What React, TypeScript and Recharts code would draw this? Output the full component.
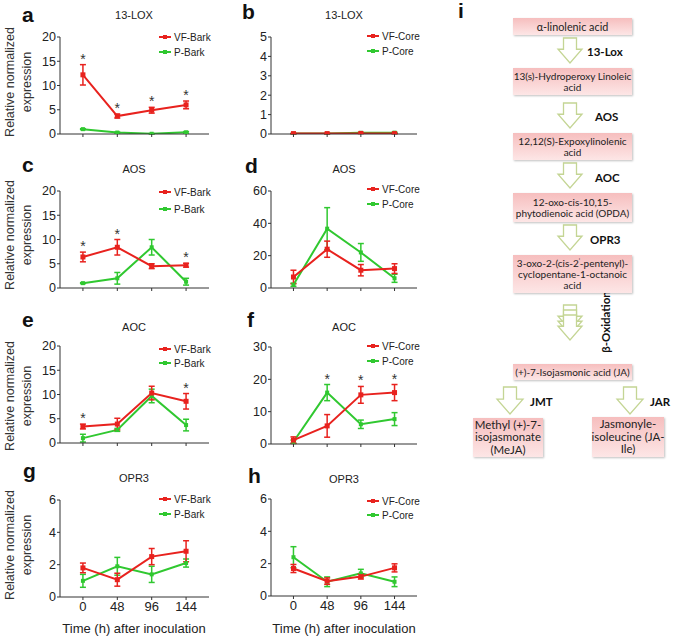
import React from "react";
import { LineChart, Line, XAxis, YAxis, ErrorBar, LabelList } from "recharts";

const times = [0, 48, 96, 144];

// a: 13-LOX bark
const loxVfBark = [12.2, 3.7, 4.9, 6.0];
const loxVfBarkErr = [2.1, 0.4, 0.6, 0.8];
const loxPBark = [1.0, 0.3, 0.05, 0.35];
const loxPBarkErr = [0.1, 0.1, 0.05, 0.15];
const loxBarkStars = [true, true, true, true];

// b: 13-LOX core
const loxVfCore = [0.02, 0.02, 0.03, 0.02];
const loxVfCoreErr = [0.01, 0.01, 0.01, 0.01];
const loxPCore = [0.02, 0.02, 0.06, 0.07];
const loxPCoreErr = [0.01, 0.01, 0.02, 0.02];
const loxCoreStars = [false, false, false, false];

// c: AOS bark
const aosVfBark = [6.4, 8.4, 4.5, 4.7];
const aosVfBarkErr = [1.0, 1.6, 0.5, 0.4];
const aosPBark = [1.0, 2.0, 8.4, 1.3];
const aosPBarkErr = [0.1, 1.2, 1.6, 0.7];
const aosBarkStars = [true, true, false, true];

// d: AOS core
const aosVfCore = [6.8, 24, 11, 12];
const aosVfCoreErr = [4.2, 5, 3.5, 3];
const aosPCore = [2, 36.7, 22, 6];
const aosPCoreErr = [1, 13, 5.5, 2.5];
const aosCoreStars = [false, false, false, false];

// e: AOC bark
const aocVfBark = [3.4, 3.9, 10.3, 8.6];
const aocVfBarkErr = [0.5, 1.2, 1.4, 1.6];
const aocPBark = [1.0, 2.7, 9.7, 3.7];
const aocPBarkErr = [0.8, 0.3, 1.4, 1.2];
const aocBarkStars = [true, false, false, true];

// f: AOC core
const aocVfCore = [1.2, 5.6, 15.2, 15.9];
const aocVfCoreErr = [1.0, 3.5, 2.6, 2.5];
const aocPCore = [0.7, 15.9, 6.1, 7.7];
const aocPCoreErr = [0.5, 2.5, 1.3, 2.0];
const aocCoreStars = [false, true, true, true];

// g: OPR3 bark
const oprVfBark = [1.8, 1.07, 2.5, 2.83];
const oprVfBarkErr = [0.3, 0.4, 0.5, 0.65];
const oprPBark = [1.0, 1.9, 1.4, 2.1];
const oprPBarkErr = [0.4, 0.55, 0.5, 0.25];
const oprBarkStars = [false, false, false, false];

// h: OPR3 core
const oprVfCore = [1.7, 0.92, 1.2, 1.74];
const oprVfCoreErr = [0.25, 0.2, 0.15, 0.25];
const oprPCore = [2.4, 0.88, 1.4, 0.88];
const oprPCoreErr = [0.65, 0.3, 0.25, 0.3];
const oprCoreStars = [false, false, false, false];

const RED = "#e8221e";
const GREEN = "#30c830";
const AXIS = "#333";
const FONT = "'Liberation Sans', Arial, sans-serif";

type PanelProps = {
  axisX: number;
  plotTop: number;
  plotW: number;
  yMax: number;
  yTicks: number[];
  vf: number[];
  vfErr: number[];
  p: number[];
  pErr: number[];
  stars: boolean[];
  names: [string, string];
  legendY: [number, number];
  bottom?: boolean;
};

const squareDot = (color: string, size: number) => (props: any) => (
  <rect
    key={props.index}
    x={props.cx - size / 2}
    y={props.cy - size / 2}
    width={size}
    height={size}
    fill={color}
  />
);

function Panel(props: PanelProps) {
  const { axisX, plotTop, plotW, yMax, yTicks, vf, vfErr, p, pErr, stars, names, legendY, bottom } = props;
  const data = times.map((t, i) => ({
    t,
    vf: vf[i],
    vfErr: vfErr[i],
    p: p[i],
    pErr: pErr[i],
    star: stars[i] ? Math.max(vf[i] + vfErr[i], p[i] + pErr[i]) : null,
  }));
  const top = 12;
  const legendX = axisX + plotW - 50;
  return (
    <>
      <div style={{ position: "absolute", left: axisX - 40, top: plotTop - top }}>
        <LineChart
          width={40 + plotW + 8}
          height={top + 97 + 30}
          data={data}
          margin={{ top, right: 8, bottom: 0, left: 0 }}
        >
          <XAxis
            dataKey="t"
            type="number"
            domain={[-32, 176]}
            ticks={times}
            interval={0}
            allowDataOverflow
            height={30}
            axisLine={{ stroke: AXIS }}
            tickLine={{ stroke: AXIS }}
            tickSize={3}
            tickMargin={2}
            tick={bottom ? { fontSize: 13, fill: "#222", fontFamily: FONT } : () => <g />}
          />
          <YAxis
            type="number"
            domain={[0, yMax]}
            ticks={yTicks}
            interval={0}
            allowDataOverflow
            width={40}
            axisLine={{ stroke: AXIS }}
            tickLine={{ stroke: AXIS }}
            tickSize={3}
            tickMargin={1}
            tick={{ fontSize: 12.5, fill: "#222", fontFamily: FONT }}
          />
          <Line
            dataKey="p"
            stroke={GREEN}
            strokeWidth={2}
            dot={squareDot(GREEN, 4)}
            isAnimationActive={false}
          >
            <ErrorBar dataKey="pErr" width={3} stroke={GREEN} strokeWidth={1.5} direction="y" />
          </Line>
          <Line
            dataKey="vf"
            stroke={RED}
            strokeWidth={2}
            dot={squareDot(RED, 5)}
            isAnimationActive={false}
          >
            <ErrorBar dataKey="vfErr" width={3} stroke={RED} strokeWidth={1.5} direction="y" />
          </Line>
          <Line dataKey="star" stroke="none" dot={false} isAnimationActive={false}>
            <LabelList
              dataKey="star"
              content={(lp: any) =>
                lp.value == null ? null : (
                  <text
                    x={lp.x}
                    y={lp.y - 1}
                    textAnchor="middle"
                    fontSize={14}
                    fill="#333"
                    fontFamily={FONT}
                  >
                    *
                  </text>
                )
              }
            />
          </Line>
        </LineChart>
      </div>
      {[0, 1].map((k) => (
        <div
          key={k}
          style={{
            position: "absolute",
            left: legendX,
            top: legendY[k] - 7,
            height: 14,
            display: "flex",
            alignItems: "center",
            fontFamily: FONT,
            fontSize: 10,
            color: "#222",
            whiteSpace: "nowrap",
          }}
        >
          <svg width={12} height={14} style={{ marginRight: 3 }}>
            <line x1={0} y1={7} x2={12} y2={7} stroke={k === 0 ? RED : GREEN} strokeWidth={2} />
            <rect x={4} y={5} width={4} height={4} fill={k === 0 ? RED : GREEN} />
          </svg>
          {names[k]}
        </div>
      ))}
    </>
  );
}

function DownArrow({ cx, top, w = 24, h = 25 }: { cx: number; top: number; w?: number; h?: number }) {
  const s = 6.5;
  const hy = top + h * 0.45;
  const pts = [
    [cx - s, top],
    [cx + s, top],
    [cx + s, hy],
    [cx + w / 2, hy],
    [cx, top + h],
    [cx - w / 2, hy],
    [cx - s, hy],
  ]
    .map((q) => q.join(","))
    .join(" ");
  return <polygon points={pts} fill="#fff" stroke="#c4d594" strokeWidth={1.3} />;
}

const boxStyle = (left: number, top: number, width: number, height: number, fs = 10): React.CSSProperties => ({
  position: "absolute",
  left,
  top,
  width,
  height,
  background: "linear-gradient(to bottom, #f6bebe, #fde6e6)",
  boxShadow: "1px 1px 2px rgba(0,0,0,0.25)",
  display: "flex",
  alignItems: "center",
  justifyContent: "center",
  textAlign: "center",
  fontFamily: "Lato, 'Open Sans', sans-serif",
  fontSize: fs,
  lineHeight: "11px",
  color: "#222",
  whiteSpace: "nowrap",
});

export default function App() {
  const ylabelRows = [82, 235, 396, 545];
  const panelLetters: [string, number, number][] = [
    ["a", 22, 22],
    ["b", 242, 19],
    ["c", 22, 172],
    ["d", 245, 173],
    ["e", 22, 327],
    ["f", 247, 327],
    ["g", 23, 478],
    ["h", 248, 483],
    ["i", 458, 18],
  ];
  const titles: [string, number, number][] = [
    ["13-LOX", 134, 19],
    ["13-LOX", 344, 19],
    ["AOS", 134, 173],
    ["AOS", 344, 173],
    ["AOC", 134, 331],
    ["AOC", 344, 331],
    ["OPR3", 134, 482],
    ["OPR3", 344, 483],
  ];
  return (
    <div style={{ position: "absolute", left: 0, top: 0, width: 675, height: 637, background: "#fff", overflow: "hidden" }}>
      <Panel axisX={60} plotTop={37} plotW={149} yMax={20} yTicks={[0, 5, 10, 15, 20]}
        vf={loxVfBark} vfErr={loxVfBarkErr} p={loxPBark} pErr={loxPBarkErr} stars={loxBarkStars}
        names={["VF-Bark", "P-Bark"]} legendY={[37, 52]} />
      <Panel axisX={271} plotTop={37} plotW={146} yMax={5} yTicks={[0, 1, 2, 3, 4, 5]}
        vf={loxVfCore} vfErr={loxVfCoreErr} p={loxPCore} pErr={loxPCoreErr} stars={loxCoreStars}
        names={["VF-Core", "P-Core"]} legendY={[36, 51]} />
      <Panel axisX={60} plotTop={191} plotW={149} yMax={20} yTicks={[0, 5, 10, 15, 20]}
        vf={aosVfBark} vfErr={aosVfBarkErr} p={aosPBark} pErr={aosPBarkErr} stars={aosBarkStars}
        names={["VF-Bark", "P-Bark"]} legendY={[192, 209]} />
      <Panel axisX={271} plotTop={191} plotW={146} yMax={60} yTicks={[0, 20, 40, 60]}
        vf={aosVfCore} vfErr={aosVfCoreErr} p={aosPCore} pErr={aosPCoreErr} stars={aosCoreStars}
        names={["VF-Core", "P-Core"]} legendY={[189, 204]} />
      <Panel axisX={60} plotTop={346} plotW={149} yMax={20} yTicks={[0, 5, 10, 15, 20]}
        vf={aocVfBark} vfErr={aocVfBarkErr} p={aocPBark} pErr={aocPBarkErr} stars={aocBarkStars}
        names={["VF-Bark", "P-Bark"]} legendY={[349, 363]} />
      <Panel axisX={271} plotTop={347} plotW={146} yMax={30} yTicks={[0, 10, 20, 30]}
        vf={aocVfCore} vfErr={aocVfCoreErr} p={aocPCore} pErr={aocPCoreErr} stars={aocCoreStars}
        names={["VF-Core", "P-Core"]} legendY={[346, 361]} />
      <Panel axisX={60} plotTop={500} plotW={149} yMax={6} yTicks={[0, 2, 4, 6]} bottom
        vf={oprVfBark} vfErr={oprVfBarkErr} p={oprPBark} pErr={oprPBarkErr} stars={oprBarkStars}
        names={["VF-Bark", "P-Bark"]} legendY={[499, 514]} />
      <Panel axisX={271} plotTop={499} plotW={146} yMax={6} yTicks={[0, 2, 4, 6]} bottom
        vf={oprVfCore} vfErr={oprVfCoreErr} p={oprPCore} pErr={oprPCoreErr} stars={oprCoreStars}
        names={["VF-Core", "P-Core"]} legendY={[501, 515]} />

      <svg width={675} height={637} style={{ position: "absolute", left: 0, top: 0, pointerEvents: "none" }}>
        {panelLetters.map(([l, x, y]) => (
          <text key={l} x={x} y={y} fontFamily={FONT} fontWeight="bold" fontSize={21} fill="#111">
            {l}
          </text>
        ))}
        {titles.map(([t, x, y], i) => (
          <text key={i} x={x} y={y} textAnchor="middle" fontFamily={FONT} fontSize={11} fill="#222">
            {t}
          </text>
        ))}
        {ylabelRows.map((cy) => (
          <g key={cy} fontFamily={FONT} fontSize={12.5} fill="#333">
            <text transform={`translate(10, ${cy}) rotate(-90)`} textAnchor="middle" dominantBaseline="central">
              Relative normalized
            </text>
            <text transform={`translate(27, ${cy}) rotate(-90)`} textAnchor="middle" dominantBaseline="central">
              expression
            </text>
          </g>
        ))}
        <text x={134} y={633} textAnchor="middle" fontFamily={FONT} fontSize={13} fill="#222">
          Time (h) after inoculation
        </text>
        <text x={344} y={633} textAnchor="middle" fontFamily={FONT} fontSize={13} fill="#222">
          Time (h) after inoculation
        </text>

        {/* pathway arrows */}
        <DownArrow cx={570} top={38} />
        <DownArrow cx={570} top={103} />
        <DownArrow cx={570} top={163} />
        <DownArrow cx={570} top={225} />
        <DownArrow cx={570} top={305} />
        <DownArrow cx={570} top={310} />
        <DownArrow cx={570} top={315} />
        <DownArrow cx={510} top={387} w={26} h={27} />
        <DownArrow cx={630} top={387} w={26} h={27} />
        <g fontFamily="Lato, sans-serif" fontWeight="bold" fontSize={11.5} fill="#111">
          <text x={587} y={56}>13-Lox</text>
          <text x={595} y={121}>AOS</text>
          <text x={595} y={182}>AOC</text>
          <text x={590} y={244}>OPR3</text>
          <text transform="translate(610, 322) rotate(-90)" textAnchor="middle">β-Oxidation</text>
          <text x={530} y={406}>JMT</text>
          <text x={650} y={406}>JAR</text>
        </g>
      </svg>

      <div style={boxStyle(513, 18, 119, 17, 10.8)}>α-linolenic acid</div>
      <div style={boxStyle(513, 68, 119, 27)}>
        13(s)-Hydroperoxy Linoleic<br />acid
      </div>
      <div style={boxStyle(513, 133, 119, 27)}>
        12,12(S)-Expoxylinolenic<br />acid
      </div>
      <div style={boxStyle(513, 193, 119, 29)}>
        12-oxo-cis-10,15-<br />phytodienoic acid (OPDA)
      </div>
      <div style={boxStyle(513, 255, 119, 38)}>
        <span>
          3-oxo-2-(cis-2<sup style={{ fontSize: 6, lineHeight: 0 }}>ˡ</sup>-pentenyl)-<br />cyclopentane-1-octanoic<br />acid
        </span>
      </div>
      <div style={boxStyle(513, 364, 119, 16)}>(+)-7-Isojasmonic acid (JA)</div>
      <div style={{ ...boxStyle(473, 418, 70, 39, 11.5), lineHeight: "12.5px" }}>
        Methyl (+)-7-<br />isojasmonate<br />(MeJA)
      </div>
      <div style={{ ...boxStyle(592, 417, 72, 40, 11.5), lineHeight: "12.5px" }}>
        Jasmonyle-<br />isoleucine (JA-<br />Ile)
      </div>
    </div>
  );
}
